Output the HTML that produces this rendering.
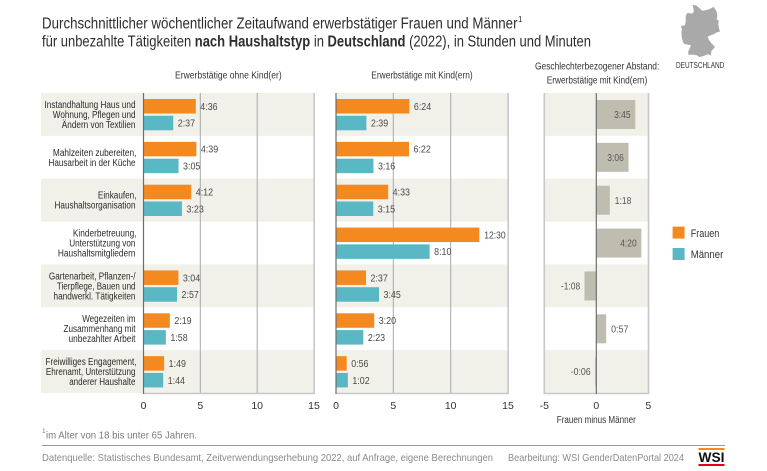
<!DOCTYPE html>
<html><head><meta charset="utf-8"><style>
html,body{margin:0;padding:0;background:#fff;}
svg{display:block;}
.n{font-family:"Liberation Sans Narrow","Liberation Sans",sans-serif;}
.s{font-family:"Liberation Sans",sans-serif;}
</style></head><body>
<svg width="767" height="471" viewBox="0 0 767 471" xmlns="http://www.w3.org/2000/svg">
<rect width="767" height="471" fill="#fff"/>
<!-- Title -->
<text class="n" x="42" y="28.5" font-size="15.5" fill="#2d2d2d" textLength="475.5" lengthAdjust="spacingAndGlyphs">Durchschnittlicher wöchentlicher Zeitaufwand erwerbstätiger Frauen und Männer</text>
<text class="n" x="518" y="22" font-size="8" fill="#2d2d2d">1</text>
<text class="n" x="42" y="46.5" font-size="15.5" fill="#2d2d2d" textLength="549" lengthAdjust="spacingAndGlyphs">für unbezahlte Tätigkeiten <tspan font-weight="bold">nach Haushaltstyp</tspan> in <tspan font-weight="bold">Deutschland</tspan> (2022), in Stunden und Minuten</text>

<!-- Map -->
<polygon fill="#a9a9a9" points="692.6,4.7 696.0,5.4 698.6,7.4 702.4,10.9 705.0,10.2 708.4,9.5 711.4,8.1 713.6,6.8 716.6,11.6 717.4,15.7 716.6,19.1 718.7,20.5 718.3,24.6 719.1,28.8 720.0,31.5 717.0,32.2 713.6,34.3 709.3,35.7 707.6,37.0 709.3,40.5 711.4,43.2 714.9,46.7 713.6,48.7 711.4,50.8 711.0,54.2 711.4,55.6 708.0,54.2 702.9,56.3 699.4,57.0 696.9,55.3 692.6,54.6 688.3,54.9 688.3,51.5 690.9,45.3 684.0,43.9 683.1,41.9 681.9,37.7 681.4,32.9 681.9,29.5 681.0,26.0 684.9,25.3 685.7,21.9 685.7,15.7 687.4,12.9 692.1,13.6 693.9,11.6 693.4,8.1"/>
<text class="n" x="676" y="68" font-size="8" fill="#333" textLength="48.3" lengthAdjust="spacingAndGlyphs">DEUTSCHLAND</text>

<!-- Panel headings -->
<text class="n" x="175" y="78.5" font-size="10" fill="#333" textLength="106.7" lengthAdjust="spacingAndGlyphs">Erwerbstätige ohne Kind(er)</text>
<text class="n" x="371.3" y="78.5" font-size="10" fill="#333" textLength="101.4" lengthAdjust="spacingAndGlyphs">Erwerbstätige mit Kind(ern)</text>
<text class="n" x="535" y="69.5" font-size="10" fill="#333" textLength="124.3" lengthAdjust="spacingAndGlyphs">Geschlechterbezogener Abstand:</text>
<text class="n" x="546.7" y="83.5" font-size="10" fill="#333" textLength="100.6" lengthAdjust="spacingAndGlyphs">Erwerbstätige mit Kind(ern)</text>

<!-- Bands -->
<g fill="#f1f0e9">
<rect x="41" y="93" width="273" height="42.86"/>
<rect x="41" y="178.71" width="273" height="42.86"/>
<rect x="41" y="264.43" width="273" height="42.86"/>
<rect x="41" y="350.14" width="273" height="42.86"/>
<rect x="336" y="93" width="172" height="42.86"/>
<rect x="336" y="178.71" width="172" height="42.86"/>
<rect x="336" y="264.43" width="172" height="42.86"/>
<rect x="336" y="350.14" width="172" height="42.86"/>
<rect x="544" y="93" width="104" height="42.86"/>
<rect x="544" y="178.71" width="104" height="42.86"/>
<rect x="544" y="264.43" width="104" height="42.86"/>
<rect x="544" y="350.14" width="104" height="42.86"/>
</g>

<!-- Gridlines -->
<g stroke="#a8a8a8" stroke-width="1">
<line x1="200.3" y1="93" x2="200.3" y2="393"/>
<line x1="257.2" y1="93" x2="257.2" y2="393"/>
<line x1="393.3" y1="93" x2="393.3" y2="393"/>
<line x1="450.7" y1="93" x2="450.7" y2="393"/>
</g>
<!-- Frame edges -->
<g stroke="#c8c8c8" stroke-width="1.6" fill="none">
<polyline points="143.5,393.5 314.2,393.5 314.2,93"/>
<polyline points="336,393.5 508.2,393.5 508.2,93"/>
<polyline points="544.3,93 544.3,393.5 648.5,393.5 648.5,93"/>
</g>

<!-- Left labels -->
<g class="n" font-size="10" fill="#2a2a2a" text-anchor="end">
<text x="135.5" y="107.8" textLength="91" lengthAdjust="spacingAndGlyphs">Instandhaltung Haus und</text>
<text x="135.5" y="117.8" textLength="82.7" lengthAdjust="spacingAndGlyphs">Wohnung, Pflegen und</text>
<text x="135.5" y="127.8" textLength="73.7" lengthAdjust="spacingAndGlyphs">Ändern von Textilien</text>
<text x="136.5" y="155.8" textLength="83.6" lengthAdjust="spacingAndGlyphs">Mahlzeiten zubereiten,</text>
<text x="135.5" y="165.8" textLength="87" lengthAdjust="spacingAndGlyphs">Hausarbeit in der Küche</text>
<text x="136.5" y="198.6" textLength="38.6" lengthAdjust="spacingAndGlyphs">Einkaufen,</text>
<text x="135.5" y="208.6" textLength="81" lengthAdjust="spacingAndGlyphs">Haushaltsorganisation</text>
<text x="136.5" y="236.5" textLength="63.6" lengthAdjust="spacingAndGlyphs">Kinderbetreuung,</text>
<text x="135.5" y="246.5" textLength="66.3" lengthAdjust="spacingAndGlyphs">Unterstützung von</text>
<text x="135.5" y="256.5" textLength="77.6" lengthAdjust="spacingAndGlyphs">Haushaltsmitgliedern</text>
<text x="135.5" y="279.4" textLength="86.6" lengthAdjust="spacingAndGlyphs">Gartenarbeit, Pflanzen-/</text>
<text x="135.5" y="289.4" textLength="78.6" lengthAdjust="spacingAndGlyphs">Tierpflege, Bauen und</text>
<text x="135.5" y="299.4" textLength="82" lengthAdjust="spacingAndGlyphs">handwerkl. Tätigkeiten</text>
<text x="135.5" y="322.2" textLength="53.3" lengthAdjust="spacingAndGlyphs">Wegezeiten im</text>
<text x="135.5" y="332.2" textLength="72" lengthAdjust="spacingAndGlyphs">Zusammenhang mit</text>
<text x="135.5" y="342.2" textLength="67" lengthAdjust="spacingAndGlyphs">unbezahlter Arbeit</text>
<text x="136.5" y="365.1" textLength="91" lengthAdjust="spacingAndGlyphs">Freiwilliges Engagement,</text>
<text x="135.5" y="375.1" textLength="89.6" lengthAdjust="spacingAndGlyphs">Ehrenamt, Unterstützung</text>
<text x="135.5" y="385.1" textLength="66.3" lengthAdjust="spacingAndGlyphs">anderer Haushalte</text>
</g>

<!-- Panel 1 bars -->
<g fill="#f4891f">
<rect x="143.5" y="99" width="52.3" height="14.5"/>
<rect x="143.5" y="141.86" width="52.9" height="14.5"/>
<rect x="143.5" y="184.71" width="47.75" height="14.5"/>
<rect x="143.5" y="270.43" width="34.87" height="14.5"/>
<rect x="143.5" y="313.29" width="26.34" height="14.5"/>
<rect x="143.5" y="356.14" width="20.66" height="14.5"/>
</g>
<g fill="#5ab8c4">
<rect x="143.5" y="115.8" width="29.75" height="14.5"/>
<rect x="143.5" y="158.66" width="35.05" height="14.5"/>
<rect x="143.5" y="201.51" width="38.47" height="14.5"/>
<rect x="143.5" y="287.23" width="33.54" height="14.5"/>
<rect x="143.5" y="330.09" width="22.36" height="14.5"/>
<rect x="143.5" y="372.94" width="19.7" height="14.5"/>
</g>
<!-- Panel 2 bars -->
<g fill="#f4891f">
<rect x="336" y="99" width="73.39" height="14.5"/>
<rect x="336" y="141.86" width="73.0" height="14.5"/>
<rect x="336" y="184.71" width="52.17" height="14.5"/>
<rect x="336" y="227.57" width="143.33" height="14.5"/>
<rect x="336" y="270.43" width="30.0" height="14.5"/>
<rect x="336" y="313.29" width="38.22" height="14.5"/>
<rect x="336" y="356.14" width="10.7" height="14.5"/>
</g>
<g fill="#5ab8c4">
<rect x="336" y="115.8" width="30.39" height="14.5"/>
<rect x="336" y="158.66" width="37.46" height="14.5"/>
<rect x="336" y="201.51" width="37.27" height="14.5"/>
<rect x="336" y="244.37" width="93.65" height="14.5"/>
<rect x="336" y="287.23" width="43.0" height="14.5"/>
<rect x="336" y="330.09" width="27.33" height="14.5"/>
<rect x="336" y="372.94" width="11.85" height="14.5"/>
</g>
<!-- Panel 3 bars -->
<g fill="#bebdaf">
<rect x="596.3" y="100" width="39" height="29"/>
<rect x="596.3" y="142.86" width="32.24" height="29"/>
<rect x="596.3" y="185.71" width="13.52" height="29"/>
<rect x="596.3" y="228.57" width="45.07" height="29"/>
<rect x="584.51" y="271.43" width="11.79" height="29"/>
<rect x="596.3" y="314.29" width="9.88" height="29"/>
<rect x="595.26" y="357.14" width="1.04" height="29"/>
</g>

<!-- Axis zero lines -->
<g stroke="#6e6e6e" stroke-width="1.2">
<line x1="143.5" y1="93" x2="143.5" y2="394"/>
<line x1="336" y1="93" x2="336" y2="394"/>
<line x1="596.3" y1="93" x2="596.3" y2="394"/>
</g>

<!-- Value labels panel 1 -->
<g class="s" font-size="10" fill="#4a4a4a">
<text x="200.3" y="109.85" textLength="17.3" lengthAdjust="spacingAndGlyphs">4:36</text>
<text x="177.75" y="126.65" textLength="17.3" lengthAdjust="spacingAndGlyphs">2:37</text>
<text x="200.9" y="152.7" textLength="17.3" lengthAdjust="spacingAndGlyphs">4:39</text>
<text x="183.05" y="169.5" textLength="17.3" lengthAdjust="spacingAndGlyphs">3:05</text>
<text x="195.75" y="195.6" textLength="17.3" lengthAdjust="spacingAndGlyphs">4:12</text>
<text x="186.47" y="212.4" textLength="17.3" lengthAdjust="spacingAndGlyphs">3:23</text>
<text x="182.87" y="281.3" textLength="17.3" lengthAdjust="spacingAndGlyphs">3:04</text>
<text x="181.54" y="298.1" textLength="17.3" lengthAdjust="spacingAndGlyphs">2:57</text>
<text x="174.34" y="324.1" textLength="17.3" lengthAdjust="spacingAndGlyphs">2:19</text>
<text x="170.36" y="340.9" textLength="17.3" lengthAdjust="spacingAndGlyphs">1:58</text>
<text x="168.66" y="367.0" textLength="17.3" lengthAdjust="spacingAndGlyphs">1:49</text>
<text x="167.7" y="383.8" textLength="17.3" lengthAdjust="spacingAndGlyphs">1:44</text>
</g>
<!-- Value labels panel 2 -->
<g class="s" font-size="10" fill="#4a4a4a">
<text x="413.89" y="109.85" textLength="17.3" lengthAdjust="spacingAndGlyphs">6:24</text>
<text x="370.89" y="126.65" textLength="17.3" lengthAdjust="spacingAndGlyphs">2:39</text>
<text x="413.5" y="152.7" textLength="17.3" lengthAdjust="spacingAndGlyphs">6:22</text>
<text x="377.96" y="169.5" textLength="17.3" lengthAdjust="spacingAndGlyphs">3:16</text>
<text x="392.67" y="195.6" textLength="17.3" lengthAdjust="spacingAndGlyphs">4:33</text>
<text x="377.77" y="212.4" textLength="17.3" lengthAdjust="spacingAndGlyphs">3:15</text>
<text x="484.3" y="238.4" textLength="21.4" lengthAdjust="spacingAndGlyphs">12:30</text>
<text x="434.15" y="255.2" textLength="17.3" lengthAdjust="spacingAndGlyphs">8:10</text>
<text x="370.5" y="281.3" textLength="17.3" lengthAdjust="spacingAndGlyphs">2:37</text>
<text x="383.5" y="298.1" textLength="17.3" lengthAdjust="spacingAndGlyphs">3:45</text>
<text x="378.72" y="324.1" textLength="17.3" lengthAdjust="spacingAndGlyphs">3:20</text>
<text x="367.83" y="340.9" textLength="17.3" lengthAdjust="spacingAndGlyphs">2:23</text>
<text x="351.2" y="367.0" textLength="17.3" lengthAdjust="spacingAndGlyphs">0:56</text>
<text x="352.35" y="383.8" textLength="17.3" lengthAdjust="spacingAndGlyphs">1:02</text>
</g>
<!-- Value labels panel 3 -->
<g class="s" font-size="10" fill="#555">
<text x="630.6" y="118.1" text-anchor="end" textLength="16.5" lengthAdjust="spacingAndGlyphs">3:45</text>
<text x="623.8" y="160.96" text-anchor="end" textLength="16.5" lengthAdjust="spacingAndGlyphs">3:06</text>
<text x="614.8" y="203.8" textLength="16.5" lengthAdjust="spacingAndGlyphs">1:18</text>
<text x="636.7" y="246.7" text-anchor="end" textLength="16.5" lengthAdjust="spacingAndGlyphs">4:20</text>
<text x="580.2" y="289.5" text-anchor="end" textLength="19.3" lengthAdjust="spacingAndGlyphs">-1:08</text>
<text x="611.1" y="332.4" textLength="17.3" lengthAdjust="spacingAndGlyphs">0:57</text>
<text x="590.7" y="375.2" text-anchor="end" textLength="20" lengthAdjust="spacingAndGlyphs">-0:06</text>
</g>

<!-- Tick labels -->
<g class="s" font-size="10.5" fill="#333" text-anchor="middle">
<text x="143.5" y="408.8">0</text>
<text x="200.3" y="408.8">5</text>
<text x="257.2" y="408.8">10</text>
<text x="314" y="408.8">15</text>
<text x="336" y="408.8">0</text>
<text x="393.3" y="408.8">5</text>
<text x="450.7" y="408.8">10</text>
<text x="508" y="408.8">15</text>
<text x="544.3" y="408.8">-5</text>
<text x="596.3" y="408.8">0</text>
<text x="648.3" y="408.8">5</text>
</g>
<text class="n" x="556.8" y="423" font-size="10" fill="#333" textLength="79" lengthAdjust="spacingAndGlyphs">Frauen minus Männer</text>

<!-- Legend -->
<rect x="672.6" y="226.6" width="12" height="12" fill="#f4891f"/>
<rect x="672.6" y="248" width="12" height="12" fill="#5ab8c4"/>
<text class="n" x="690.7" y="236.8" font-size="11" fill="#333" textLength="28.6" lengthAdjust="spacingAndGlyphs">Frauen</text>
<text class="n" x="690.7" y="258.2" font-size="11" fill="#333" textLength="32.6" lengthAdjust="spacingAndGlyphs">Männer</text>

<!-- Footer -->
<text class="n" x="42" y="433" font-size="6.5" fill="#7a7a7a">1</text>
<text class="n" x="46" y="438.6" font-size="10" fill="#7a7a7a" textLength="151" lengthAdjust="spacingAndGlyphs">im Alter von 18 bis unter 65 Jahren.</text>
<line x1="42" y1="445.5" x2="725" y2="445.5" stroke="#9a9a9a" stroke-width="1"/>
<text class="n" x="42" y="461" font-size="10.5" fill="#8a8a8a" textLength="451" lengthAdjust="spacingAndGlyphs">Datenquelle: Statistisches Bundesamt, Zeitverwendungserhebung 2022, auf Anfrage, eigene Berechnungen</text>
<text class="n" x="508" y="461" font-size="10.5" fill="#8a8a8a" textLength="176" lengthAdjust="spacingAndGlyphs">Bearbeitung: WSI GenderDatenPortal 2024</text>
<rect x="698.5" y="448" width="26" height="2" fill="#f4891f"/>
<text class="s" x="698.5" y="462" font-size="13.5" font-weight="bold" fill="#111" textLength="26" lengthAdjust="spacingAndGlyphs">WSI</text>
<rect x="698.5" y="464" width="26" height="2" fill="#e2001a"/>
</svg>
</body></html>
